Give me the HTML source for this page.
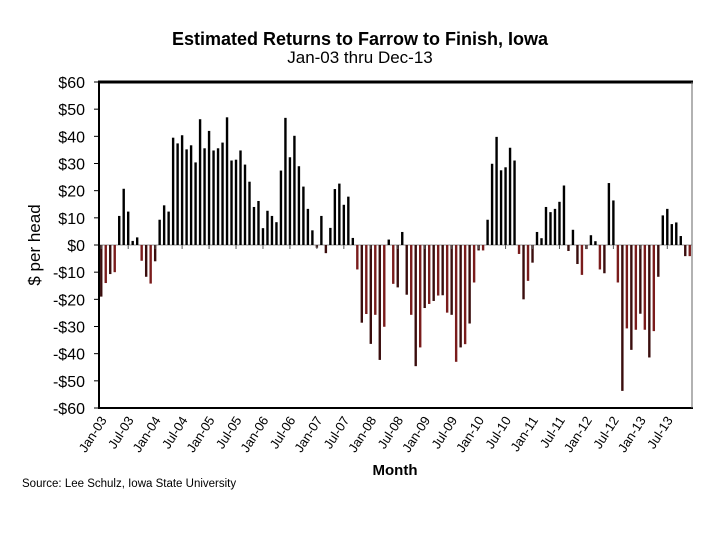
<!DOCTYPE html>
<html><head><meta charset="utf-8"><style>
body{margin:0;background:#fff;}
svg text{font-family:"Liberation Sans",Arial,sans-serif;}
</style></head><body>
<svg id="chart" width="720" height="540" xmlns="http://www.w3.org/2000/svg">
<text x="360" y="45" text-anchor="middle" font-size="18" font-weight="bold" textLength="376">Estimated Returns to Farrow to Finish, Iowa</text>
<text x="360" y="63" text-anchor="middle" font-size="17">Jan-03 thru Dec-13</text>
<text transform="translate(40,245) rotate(-90)" text-anchor="middle" font-size="17">$ per head</text>
<text x="395" y="475" text-anchor="middle" font-size="15" font-weight="bold">Month</text>
<text x="22" y="487" font-size="11.5">Source: Lee Schulz, Iowa State University</text>
<g id="plot"></g>
</svg>
<script>
const yTicks=[60,50,40,30,20,10,0,-10,-20,-30,-40,-50,-60];
const xLabels=["Jan-03","Jul-03","Jan-04","Jul-04","Jan-05","Jul-05","Jan-06","Jul-06","Jan-07","Jul-07","Jan-08","Jul-08","Jan-09","Jul-09","Jan-10","Jul-10","Jan-11","Jul-11","Jan-12","Jul-12","Jan-13","Jul-13"];
const returns=[-19,-14,-10.7,-10,10.7,20.7,12.3,1.5,2.8,-5.8,-11.7,-14.2,
-6,9.3,14.6,12.3,39.5,37.4,40.4,35.2,36.7,30.4,46.3,35.6,
42,34.8,35.6,37.7,47,31.1,31.4,34.8,29.6,23.3,14,16.2,
6.2,12.6,10.7,8.4,27.4,46.8,32.3,40.2,29,21.5,13.3,5.4,
-1,10.7,-3,6.3,20.6,22.6,14.8,17.8,2.6,-9,-28.6,-25.4,
-36.4,-25.7,-42.3,-30.1,2,-14.3,-15.6,4.8,-18.3,-25.7,-44.6,-37.7,
-23.2,-21.7,-20.6,-18.6,-18.5,-24.9,-25.7,-43,-37.7,-36.5,-28.9,-13.8,
-2,-2,9.3,29.9,39.8,27.5,28.6,35.8,31.1,-3.3,-20,-13.2,
-6.5,4.8,2.5,14,12.1,13.3,15.9,21.9,-2.2,5.6,-7,-11,
-1.5,3.6,1.4,-9,-10.4,22.8,16.4,-13.8,-53.7,-30.7,-38.6,-31.2,
-25.3,-31.2,-41.4,-31.7,-11.7,10.9,13.3,7.7,8.3,3.3,-4.1,-4.1];
const NS="http://www.w3.org/2000/svg";
const g=document.getElementById('plot');
const L=99,R=692,T=82,B=408;
const band=(R-L)/returns.length;
const y=v=>T+(60-v)*(B-T)/120;
const x=i=>L+band*(i+0.5);
function mk(t,a){const e=document.createElementNS(NS,t);for(const k in a)e.setAttribute(k,a[k]);g.appendChild(e);return e;}
let e;
e=mk('line',{x1:L,y1:y(0),x2:R,y2:y(0),stroke:'#aaa','stroke-width':1.2});


returns.forEach((v,i)=>{
  const b=mk('rect',{x:x(i)-1.2,width:2.4,y:Math.min(y(v),y(0)),height:Math.abs(y(v)-y(0)),fill:v>=0?'#000':(i%2?'#7a1c1c':'#3a0d0d')});
  
  
});
yTicks.forEach(t=>{
  const tk=mk('line',{x1:L-5,x2:L,y1:y(t),y2:y(t),stroke:'#000','stroke-width':1});
  
  
  const tx=mk('text',{x:L-14,y:y(t)+6,'text-anchor':'end','font-size':16});
  tx.textContent=(t<0?'-$':'$')+Math.abs(t);
  
  
});
xLabels.forEach((s,k)=>{
  const i=k*6, cx=x(i);
  const tk=mk('line',{x1:cx,x2:cx,y1:y(0),y2:y(0)+4,stroke:'#555','stroke-width':1});
  
  
  const tx=mk('text',{transform:`translate(${cx+6},${B+12}) rotate(-57)`,'text-anchor':'end','font-size':13});
  tx.textContent=s;
  
  
});
e=mk('line',{x1:L-1,y1:T,x2:R+1,y2:T,stroke:'#000','stroke-width':3});


e=mk('line',{x1:L-1,y1:B,x2:R+1,y2:B,stroke:'#000','stroke-width':2});


e=mk('line',{x1:L,y1:T,x2:L,y2:B,stroke:'#000','stroke-width':2});


e=mk('line',{x1:R,y1:T,x2:R,y2:B,stroke:'#666','stroke-width':1});


</script>
</body></html>
